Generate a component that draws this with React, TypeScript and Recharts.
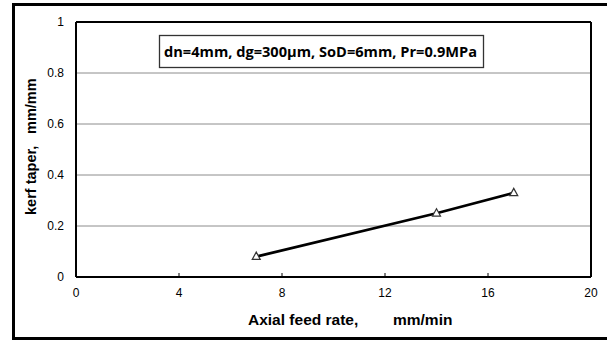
import { LineChart, Line, XAxis, YAxis, CartesianGrid, ReferenceLine } from 'recharts'

// kerf taper vs axial feed rate
const feedRate = [7, 14, 17]
const kerfTaper = [0.08, 0.25, 0.33]
const xTicks = [0, 4, 8, 12, 16, 20]
const yTicks = [0, 0.2, 0.4, 0.6, 0.8, 1]
const legendText = 'dn=4mm, dg=300\u03bcm, SoD=6mm, Pr=0.9MPa'

const data = feedRate.map((x, i) => ({ x, y: kerfTaper[i] }))

const font = '"Liberation Sans", Arial, sans-serif'

function Triangle(props: any) {
  const { cx, cy } = props
  if (cx == null || cy == null) return null
  return (
    <path
      d={`M${cx},${cy - 4.5}L${cx + 4},${cy + 2.8}L${cx - 4},${cy + 2.8}Z`}
      fill="#fff"
      stroke="#333"
      strokeWidth={1.2}
    />
  )
}

export default function App() {
  return (
    <div style={{ position: 'fixed', left: 0, top: 0, width: 607, height: 342, overflow: 'hidden', background: '#fff' }}>
      <div style={{ position: 'absolute', left: 12, top: 3, width: 640, height: 331, border: '3px solid #000' }} />
      <div style={{ position: 'absolute', left: 0, top: 0 }}>
        <LineChart width={607} height={342} data={data} margin={{ top: 22, right: 16, bottom: 35, left: 0 }}>
          <CartesianGrid horizontal vertical={false} stroke="#8c8c8c" strokeWidth={1} />
          <XAxis
            type="number"
            dataKey="x"
            domain={[0, 20]}
            ticks={xTicks}
            height={30}
            axisLine={{ stroke: '#000', strokeWidth: 2 }}
            tickLine={{ stroke: '#000' }}
            tickSize={-4}
            tickMargin={15}
            tick={{ fill: '#000', fontSize: 12, fontFamily: font }}
          />
          <YAxis
            type="number"
            domain={[0, 1]}
            ticks={yTicks}
            width={76}
            axisLine={{ stroke: '#000', strokeWidth: 2 }}
            tickLine={false}
            tickSize={6}
            tickMargin={6}
            tickFormatter={(v) => String(v)}
            tick={{ fill: '#000', fontSize: 12, fontFamily: font }}
          />
          <ReferenceLine y={1} stroke="#000" strokeWidth={2} />
          <ReferenceLine x={20} stroke="#000" strokeWidth={2} />
          <Line
            type="linear"
            dataKey="y"
            stroke="#000"
            strokeWidth={2.8}
            dot={<Triangle />}
            activeDot={false}
            isAnimationActive={false}
          />
        </LineChart>
      </div>
      <svg width={607} height={342} style={{ position: 'absolute', left: 0, top: 0, pointerEvents: 'none' }}>
        <rect x={159.5} y={35.5} width={324} height={32} fill="#fff" stroke="#333" strokeWidth={1.3} />
        <text x={164} y={57} fontFamily='"Open Sans", sans-serif' fontWeight={700} fontSize={14} textLength={313} lengthAdjust="spacingAndGlyphs" fill="#000">
          {legendText}
        </text>
        <g fontFamily={font} fontWeight="bold" fontSize={15.5} fill="#000">
          <text x={248} y={325}>Axial feed rate,</text>
          <text x={393} y={325}>mm/min</text>
        </g>
        <g fontFamily={font} fontWeight="bold" fontSize={14.5} fill="#000" transform="translate(36,0) rotate(-90)">
          <text x={-215} y={0}>kerf taper,</text>
          <text x={-134} y={0}>mm/mm</text>
        </g>
      </svg>
    </div>
  )
}
